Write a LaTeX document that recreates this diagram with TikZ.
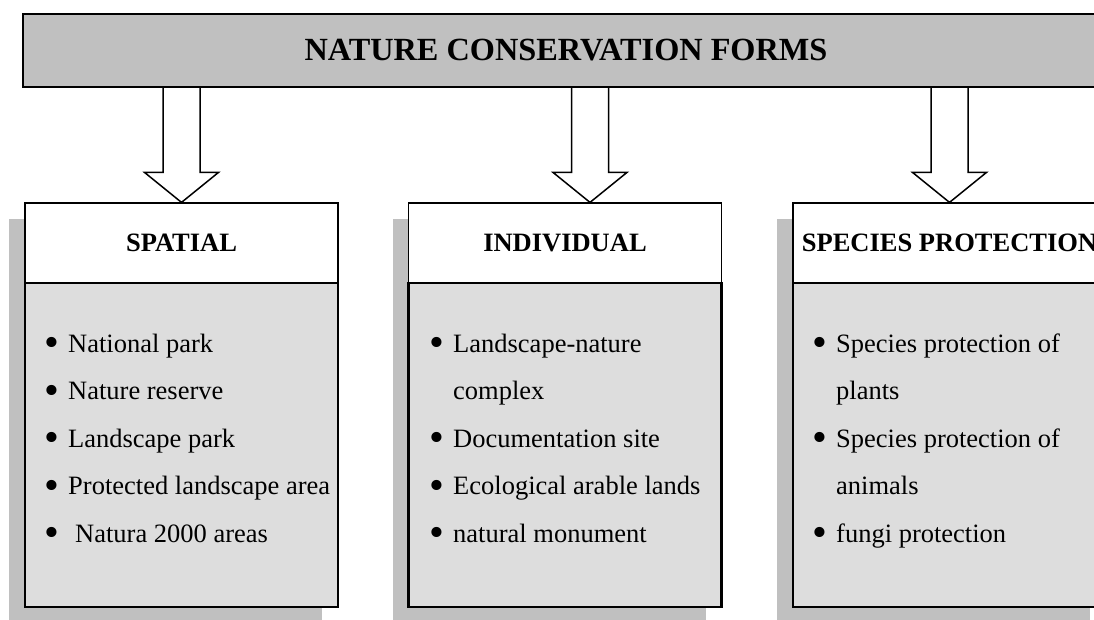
\documentclass[tikz,border=0pt]{standalone}
\usepackage{fontspec}
\setmainfont{Liberation Serif}
\usetikzlibrary{shadows,calc}
\definecolor{bannergray}{HTML}{C0C0C0}
\definecolor{shadowgray}{HTML}{C0C0C0}
\definecolor{bodygray}{HTML}{DDDDDD}
\newcommand{\itembul}{\makebox[21pt][l]{\hspace{-2.8pt}\raisebox{-4.3pt}{\scalebox{1.6}{\textbullet}}}}
\begin{document}
\begin{tikzpicture}[x=1pt,y=-1pt,
  banner/.style={draw=black, line width=2pt, fill=bannergray, minimum width=1086pt, minimum height=73pt, inner sep=0pt, font=\fontsize{32.3}{36}\selectfont\bfseries},
  boxshadow/.style={drop shadow={shadow xshift=-16pt, shadow yshift=-16pt, opacity=1, fill=shadowgray}},
  header/.style={draw=black, line width=1.2pt, fill=white, minimum width=313pt, minimum height=80pt, inner sep=0pt, font=\fontsize{26.5}{30}\selectfont\bfseries, boxshadow},
  body/.style={draw=black, line width=2.2pt, fill=bodygray, minimum width=313pt, minimum height=324pt, inner sep=0pt, boxshadow},
  itemlist/.style={anchor=north west, inner sep=0pt, font=\fontsize{26.5}{47.5}\selectfont},
  hollow/.style={draw=black, line width=1.5pt, fill=white, line join=miter}
]
\useasboundingbox (0,0) rectangle (1094,619);
\clip (0,0) rectangle (1094,619);

% headers and bodies
\node[header] (h1) at (181.5,243) {SPATIAL};
\node[body]   (b1) at (181.5,445) {};
\node[header] (h2) at (565,243) {INDIVIDUAL};
\node[body]   (b2) at (565,445) {};
\node[header] (h3) at (949.5,243) {SPECIES PROTECTION};
\node[body]   (b3) at (949.5,445) {};

% lists
\node[itemlist] (l1) at (47,318.75) {\begin{tabular}{@{}l@{}l@{}}
\itembul & National park\\
\itembul & Nature reserve\\
\itembul & Landscape park\\
\itembul & Protected landscape area\\
\itembul & \hspace{7pt}Natura 2000 areas
\end{tabular}};
\node[itemlist] (l2) at (432,318.75) {\begin{tabular}{@{}l@{}l@{}}
\itembul & Landscape-nature\\
 & complex\\
\itembul & Documentation site\\
\itembul & Ecological arable lands\\
\itembul & natural monument
\end{tabular}};
\node[itemlist] (l3) at (815,318.75) {\begin{tabular}{@{}l@{}l@{}}
\itembul & Species protection of\\
 & plants\\
\itembul & Species protection of\\
 & animals\\
\itembul & fungi protection
\end{tabular}};

% hollow arrows from banner to headers
\coordinate (t1) at (h1.north);
\coordinate (t2) at ($(h2.north)+(25,0)$);
\coordinate (t3) at (h3.north);
\foreach \t in {t1,t2,t3}{
  \draw[hollow] (\t) -- ++(-37,-30) -- ++(18.5,0) -- ++(0,-87) -- ++(37,0) -- ++(0,87) -- ++(18.5,0) -- cycle;
}

% banner
\node[banner] (banner) at (566,50.5) {NATURE CONSERVATION FORMS};
\end{tikzpicture}
\end{document}
